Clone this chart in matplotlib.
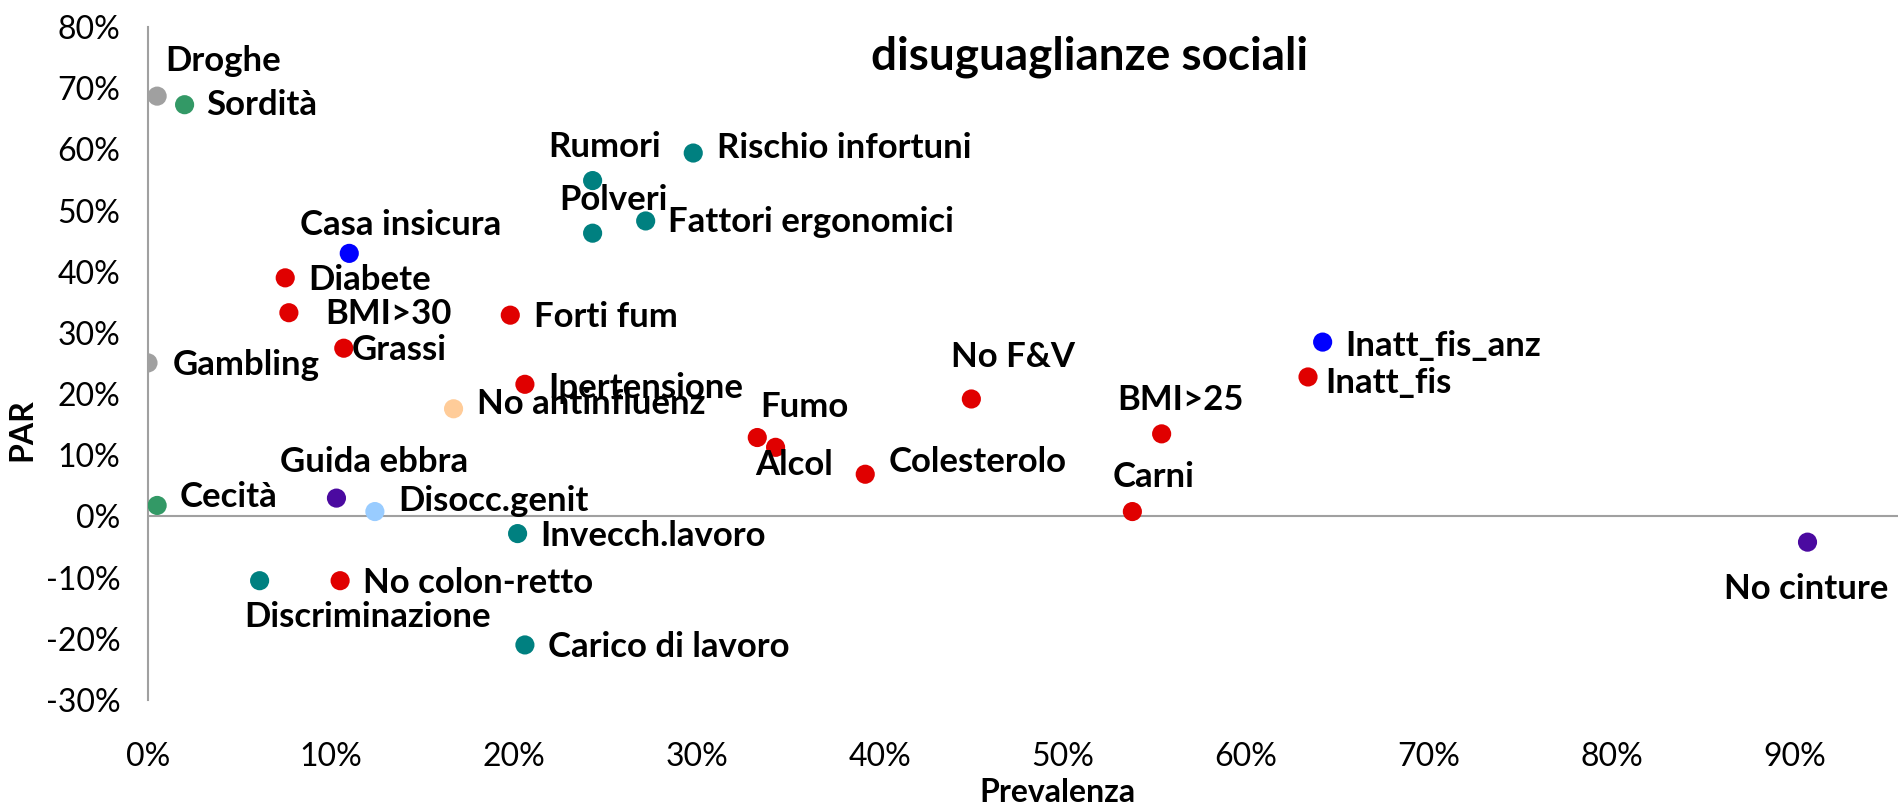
import matplotlib.pyplot as plt
from matplotlib.ticker import PercentFormatter

# prevalenza (x) and PAR (y), in percent
labels = ["Droghe", "Sordità", "Rumori", "Rischio infortuni", "Polveri",
          "Fattori ergonomici", "Casa insicura", "Diabete", "BMI>30", "Forti fum",
          "Grassi", "Gambling", "Ipertensione", "No antinfluenz", "No F&V",
          "Inatt_fis_anz", "Inatt_fis", "BMI>25", "Fumo", "Alcol",
          "Colesterolo", "Carni", "Cecità", "Guida ebbra", "Disocc.genit",
          "Invecch.lavoro", "No cinture", "Discriminazione", "No colon-retto",
          "Carico di lavoro"]
prevalenza = [0.5, 2.0, 24.3, 29.8, 24.3, 27.2, 11.0, 7.5, 7.7, 19.8,
              10.7, 0.0, 20.6, 16.7, 45.0, 64.2, 63.4, 55.4, 33.3, 34.3,
              39.2, 53.8, 0.5, 10.3, 12.4, 20.2, 90.7, 6.1, 10.5, 20.6]
par = [68.7, 67.3, 54.9, 59.4, 46.3, 48.3, 43.0, 39.0, 33.3, 32.9,
       27.5, 25.1, 21.6, 17.6, 19.2, 28.5, 22.8, 13.5, 12.9, 11.3,
       6.9, 0.8, 1.8, 3.0, 0.8, -2.8, -4.2, -10.5, -10.5, -21.0]
groups = ["dip", "sens", "lav", "lav", "lav", "lav", "casa", "rf", "rf", "rf",
          "rf", "dip", "rf", "prev", "rf", "casa", "rf", "rf", "rf", "rf",
          "rf", "rf", "sens", "strada", "prev2", "lav", "strada", "lav", "rf", "lav"]

colors = {"dip": "#A0A0A0", "sens": "#339966", "lav": "#008080", "casa": "#0000FF",
          "rf": "#E00000", "prev": "#FFCC99", "prev2": "#99CCFF", "strada": "#4B0AA0"}

# label placement: (dx, dy) in pixels, horizontal alignment
place = {
    "Droghe": (8, 35, "left"), "Sordità": (22, 0, "left"), "Rumori": (12, 34, "center"),
    "Rischio infortuni": (24, 5, "left"), "Polveri": (21, 33, "center"),
    "Fattori ergonomici": (22, -1, "left"), "Casa insicura": (51, 28, "center"),
    "Diabete": (23, -2, "left"), "BMI>30": (36, -1, "left"), "Forti fum": (24, -2, "left"),
    "Grassi": (8, -2, "left"), "Gambling": (25, -2, "left"), "Ipertensione": (23, -4, "left"),
    "No antinfluenz": (23, 5, "left"), "No F&V": (42, 42, "center"),
    "Inatt_fis_anz": (23, -4, "left"), "Inatt_fis": (17, -6, "left"),
    "BMI>25": (19, 34, "center"), "Fumo": (47, 31, "center"), "Alcol": (18, -18, "center"),
    "Colesterolo": (23, 12, "left"), "Carni": (21, 35, "center"), "Cecità": (22, 8, "left"),
    "Guida ebbra": (38, 36, "center"), "Disocc.genit": (23, 11, "left"),
    "Invecch.lavoro": (23, -2, "left"), "No cinture": (-1, -47, "center"),
    "Discriminazione": (108, -36, "center"), "No colon-retto": (23, -2, "left"),
    "Carico di lavoro": (23, -2, "left"),
}

plt.rcParams['font.family'] = ['Lato', 'DejaVu Sans']
plt.rcParams['axes.unicode_minus'] = False

fig = plt.figure(figsize=(18.99, 8.08), dpi=100)
ax = fig.add_axes([148 / 1899, 1 - 700 / 808, 1 - 148 / 1899, (700 - 27) / 808])

ax.scatter(prevalenza, par, s=190, c=[colors[g] for g in groups], zorder=3, linewidths=0)

for lab, x, y in zip(labels, prevalenza, par):
    dx, dy, ha = place[lab]
    ax.annotate(lab, (x, y), xytext=(dx, dy), textcoords='offset pixels',
                ha=ha, va='center', fontsize=25, fontweight='bold', zorder=4)

ax.set_xlim(0, 95.7)
ax.set_ylim(-30, 80)
ax.set_xticks(range(0, 100, 10))
ax.set_yticks(range(-30, 90, 10))
ax.xaxis.set_major_formatter(PercentFormatter(decimals=0))
ax.yaxis.set_major_formatter(PercentFormatter(decimals=0))
ax.tick_params(length=0, labelsize=23)
ax.tick_params(axis='x', pad=30)
ax.tick_params(axis='y', pad=20)

for s in ['top', 'right', 'bottom']:
    ax.spines[s].set_visible(False)
ax.spines['left'].set_color('#A0A0A0')
ax.spines['left'].set_linewidth(1.5)
ax.axhline(0, color='#A0A0A0', lw=1.5, zorder=1)

fig.text(1057 / 1899, 1 - 792 / 808, "Prevalenza", ha='center', va='center',
         fontsize=23, fontweight='bold')
fig.text(22 / 1899, 1 - 430 / 808, "PAR", ha='center', va='center', rotation=90,
         fontsize=23, fontweight='bold')
fig.text(1090 / 1899, 1 - 70 / 808, "disuguaglianze sociali", ha='center', va='baseline',
         fontsize=33, fontweight='bold')

fig.savefig("out.png", dpi=100)
